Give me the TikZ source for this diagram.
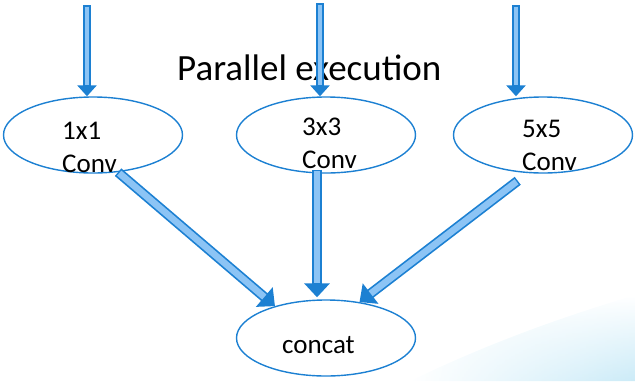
\documentclass[tikz,border=0pt]{standalone}
\usepackage{fontspec}
\setmainfont{Carlito}
\usetikzlibrary{arrows.meta,shapes.geometric,fadings}
\definecolor{lineblue}{RGB}{28,128,210}
\definecolor{shaftblue}{RGB}{140,196,245}
\definecolor{swoosh}{RGB}{140,210,238}

\begin{document}
\begin{tikzpicture}[x=1pt, y=-1pt, node distance=203pt,
  conv/.style={draw=lineblue, line width=1.4pt, ellipse, minimum width=179pt, minimum height=76pt},
  convtext/.style={align=left, anchor=base west, inner sep=0pt, font=\fontsize{27}{32.4}\selectfont},
  feed/.style={draw=lineblue, line width=8pt, -{Triangle[length=11pt, width=19pt]},
    postaction={draw=shaftblue, line width=4.8pt, -, shorten >=11pt, shorten <=1.5pt}},
  merge/.style={draw=lineblue, line width=10pt, -{Triangle[length=14pt, width=25pt]},
    postaction={draw=shaftblue, line width=6.6pt, -, shorten >=14pt, shorten <=1.5pt}}]
\useasboundingbox (0,0) rectangle (635,381);

% faint slide background in the corner
\shade[path fading=west, top color=white, bottom color=swoosh, opacity=0.45]
  (410,381) .. controls (500,338) and (570,315) .. (635,295) -- (635,381) -- cycle;

% the three parallel branches
\node[conv] (c1) at (93,135) {};
\node[conv] (c2) at (326,135) {};
\node[conv] (c3) at (543,135) {};
\node[conv, below of=c2] (cc) {};

\node[convtext] (t1) at (62,172) {1x1\\Conv};
\node[convtext] (t2) at (302,168) {3x3\\Conv};
\node[convtext] (t3) at (522,170) {5x5\\Conv};
\node[convtext] (tc) at (282,353) {concat};

\node[anchor=base west, inner sep=0pt, font=\fontsize{37}{44}\selectfont] (title) at (177,80) {Parallel execution};

% inputs
\coordinate (in1) at (87,5);
\coordinate (in2) at (320,3);
\coordinate (in3) at (516,5);
\draw[feed] (in1) -- (in1 |- c1.north);
\draw[feed] (in2) -- (in2 |- c2.north);
\draw[feed] (in3) -- (in3 |- c3.north);

% outputs into concat
\draw[merge] (c1.-56) -- (cc.148);
\draw[merge] ([xshift=-9pt, yshift=4pt]c2.south) -- ([xshift=-9pt, yshift=2pt]cc.north);
\draw[merge] ([shift={(-6pt,-8pt)}]c3.-117) -- (cc.47);
\end{tikzpicture}
\end{document}
